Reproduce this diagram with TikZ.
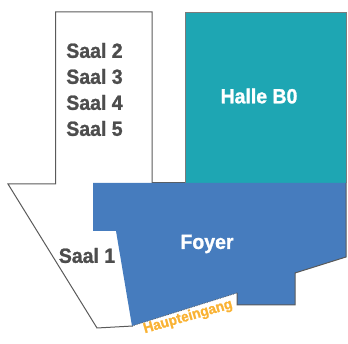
\documentclass[tikz,border=0pt]{standalone}
\usepackage{fontspec}
\setmainfont{Liberation Sans}[BoldFont={Liberation Sans Bold},BoldFeatures={FakeStretch=0.95,FakeBold=1.2}]
\definecolor{foyerblue}{HTML}{467CBE}
\definecolor{halleteal}{HTML}{1EA6B3}
\definecolor{wallgray}{HTML}{5A5A5A}
\definecolor{saalgray}{HTML}{4D4D4D}
\definecolor{eingangorange}{HTML}{F9B233}
\tikzset{
    wall/.style={draw=wallgray,line width=1pt,line join=miter},
    saal/.style={text=saalgray,font=\fontsize{20.5}{20.5}\selectfont\bfseries},
    hall/.style={text=white,font=\fontsize{20.5}{20.5}\selectfont\bfseries},
}
\begin{document}
\begin{tikzpicture}[x=1pt,y=-1pt]
    \useasboundingbox(0,0)rectangle(348,344);

    % Saele
    \draw[wall](152,183)--(152,12)--(55.5,12)--(55.5,184)--(8,184)--(97,328)--(133,326);

    % Halle und Foyer
    \fill[halleteal](185,13)rectangle(346,183);
    \draw[wall,draw=wallgray!80](185,183)--(185,13)--(346,13)--(346,183);
    \draw[wall](152,182.5)--(185,182.5);
    \fill[foyerblue](93,183)--(346,183)--(346,257)--(295,273)--(295,305)--(237,305)--(237,293)--(132,326)--(116,231)--(93,231)--cycle;
    \draw[wall](346,183)--(346,257)--(295,273)--(295,305)--(237,305)--(237,293);
    \draw[wallgray,line width=0.7pt,densely dotted](237,293)--(132,326);

    \node[saal](saal2)at(94.5,50.5){Saal 2};
    \node[saal](saal3)at(94.5,76.5){Saal 3};
    \node[saal](saal4)at(94.5,102.5){Saal 4};
    \node[saal](saal5)at(94.5,128.5){Saal 5};
    \node[saal](saal1)at(87,255.5){Saal 1};
    \node[hall](halle)at(259,96){Halle B0};
    \node[hall](foyer)at(207,244){Foyer};
    \node[text=eingangorange,font=\fontsize{14.5}{14.5}\selectfont\bfseries,rotate=16](eingang)at(188,317){Haupteingang};

\end{tikzpicture}
\end{document}
